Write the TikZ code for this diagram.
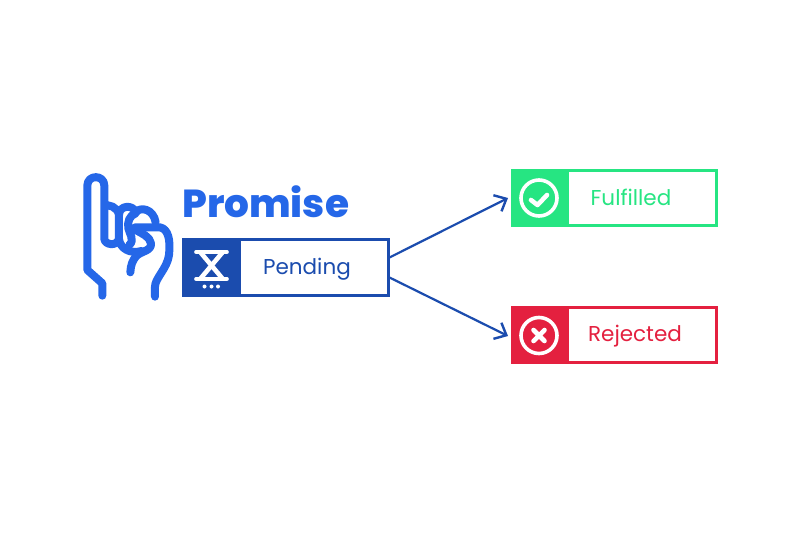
\documentclass[tikz,border=0pt]{standalone}
\usepackage{fontspec}
\setmainfont{Poppins}
\newfontfamily\heavy{Poppins ExtraBold}
\usetikzlibrary{arrows.meta}
\definecolor{pblue}{HTML}{2567E8}
\definecolor{dblue}{HTML}{1B4CAE}
\definecolor{green}{HTML}{26E582}
\definecolor{red}{HTML}{E4203F}
\tikzset{
 lbl/.style={font=\fontsize{21.5}{24}\selectfont,anchor=base},
 hand/.style={draw=pblue,line width=8pt,line cap=round,line join=round},
 icon/.style={draw=white,line width=3.6pt,line cap=round,line join=round},
 iconheavy/.style={icon,line width=4.6pt},
 conn/.style={draw=dblue,line width=2.2pt,-{Straight Barb[length=10pt,width=18pt,line width=2.4pt]}},
 frame/.style={line width=3pt,fill=white,outer sep=0pt,inner sep=0pt},
}
\begin{document}
\begin{tikzpicture}[x=1pt,y=-1pt]
\useasboundingbox (0,0) rectangle (800,533);
\fill[white] (0,0) rectangle (800,533);
% hand (traced)
\begin{scope}[shift={(70,165)},x=0.3333pt,y=-0.3333pt]
\draw[hand] (97,392) -- (97,355) -- (52,315) -- (52,62) .. controls (52,28) and (103,28) .. (103,62) -- (103,222) .. controls (105,240) and (140,245) .. (147,222) -- (147,150) .. controls (143,125) and (115,118) .. (103,122);
\draw[hand] (147,150) .. controls (147,120) and (190,118) .. (197,142);
\draw[hand] (147,222) .. controls (150,250) and (180,268) .. (215,258);
\draw[hand] (197,142) .. controls (210,125) and (250,130) .. (257,172);
\draw[hand] (197,145) .. controls (178,152) and (172,170) .. (175,190) .. controls (178,205) and (195,225) .. (178,240);
\draw[hand] (195,187) -- (270,187) .. controls (295,192) and (302,225) .. (297,270) .. controls (292,310) and (255,340) .. (255,365) -- (255,395);
\draw[hand] (197,195) .. controls (215,205) and (240,215) .. (243,235) .. controls (245,258) and (215,258) .. (200,272) .. controls (188,285) and (182,300) .. (181,322);
\end{scope}
\node[anchor=base west,text=pblue,inner sep=0pt,font=\fontsize{39}{40}\selectfont\heavy] (title) at (182,217.5) {Promise};
% pending
\node[draw=dblue,frame,minimum width=205pt,minimum height=56pt,anchor=north west] (pending) at (183.5,239.5) {};
\fill[dblue] (182,238) rectangle (241,297);
\node[lbl,text=dblue] (ptext) at (307,274) {Pending};
\draw[icon] (196,252) -- (227,252) (196,279) -- (227,279);
\draw[iconheavy] (201,253) -- (222,278) (222,253) -- (201,278);
\fill[white] (204.5,286.5) circle (2) (211.5,286.5) circle (2) (218,286.5) circle (2);
% fulfilled
\node[draw=green,frame,minimum width=204pt,minimum height=55pt,anchor=north west] (ful) at (512.5,170.5) {};
\fill[green] (511,169) rectangle (569,227);
\draw[icon] (539,198) circle (18);
\draw[iconheavy] (531,200) -- (537.5,205) -- (547,195);
\node[lbl,text=green] (ftext) at (631,205) {Fulfilled};
% rejected
\node[draw=red,frame,minimum width=204pt,minimum height=55pt,anchor=north west] (rej) at (512.5,307.5) {};
\fill[red] (511,306) rectangle (569,364);
\draw[icon] (539,335.5) circle (18);
\draw[iconheavy] (533.5,330) -- (544.5,341) (544.5,330) -- (533.5,341);
\node[lbl,text=red] (rtext) at (635,341) {Rejected};
% connectors
\coordinate (a1) at (pending.east |- 0,258);
\coordinate (a2) at (pending.east |- 0,277);
\coordinate (b1) at (508,198);
\coordinate (b2) at (508,336);
\draw[conn] (a1) -- (b1);
\draw[conn] (a2) -- (b2);
\end{tikzpicture}
\end{document}
